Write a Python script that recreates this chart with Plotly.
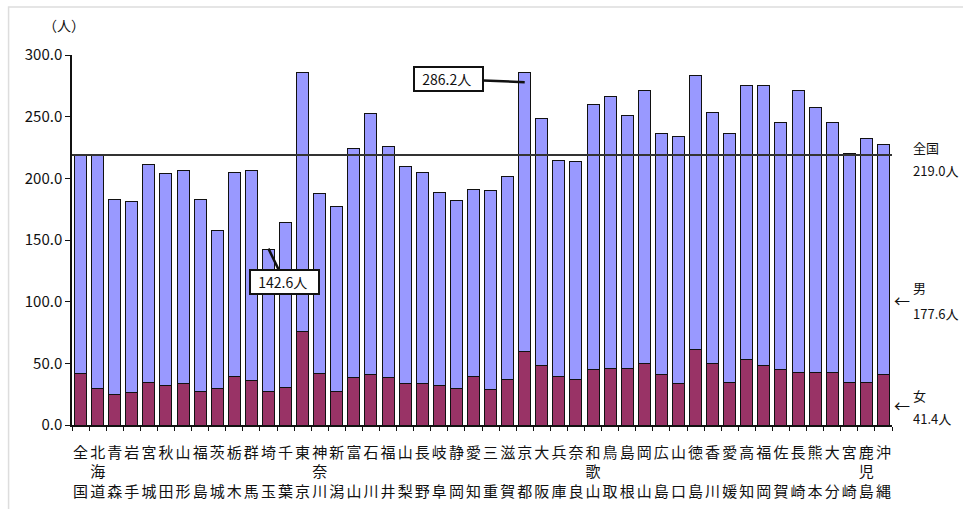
import plotly.graph_objects as go

prefs = ["全国", "北海道", "青森", "岩手", "宮城", "秋田", "山形", "福島", "茨城", "栃木", "群馬", "埼玉",
         "千葉", "東京", "神奈川", "新潟", "富山", "石川", "福井", "山梨", "長野", "岐阜", "静岡", "愛知",
         "三重", "滋賀", "京都", "大阪", "兵庫", "奈良", "和歌山", "鳥取", "島根", "岡山", "広島", "山口",
         "徳島", "香川", "愛媛", "高知", "福岡", "佐賀", "長崎", "熊本", "大分", "宮崎", "鹿児島", "沖縄"]

female = [41.4, 29.7, 24.9, 26.2, 34.6, 32.2, 33.5, 27.0, 29.4, 39.7, 35.7, 27.0,
          30.8, 75.7, 42.0, 27.0, 38.7, 40.8, 38.7, 33.3, 33.3, 32.2, 29.7, 39.7,
          28.4, 37.1, 59.2, 48.1, 39.7, 37.1, 44.6, 46.0, 46.0, 49.5, 41.1, 33.3,
          61.1, 49.7, 34.6, 53.5, 48.4, 44.9, 42.4, 42.4, 42.4, 34.6, 34.6, 41.1]

total = [219.0, 218.6, 182.6, 181.3, 211.3, 203.7, 206.2, 182.6, 157.7, 205.1, 206.2, 142.6,
         164.0, 285.9, 187.8, 177.2, 223.8, 252.2, 225.9, 210.0, 205.1, 188.6, 182.4, 191.0,
         189.9, 201.3, 286.2, 248.6, 214.8, 213.5, 259.7, 266.0, 251.1, 271.1, 236.2, 233.8,
         283.5, 253.5, 236.2, 274.9, 274.9, 244.9, 271.1, 257.3, 244.9, 220.0, 232.7, 227.5]

male = [round(t - f, 1) for t, f in zip(total, female)]

national_total = 219.0
national_male = 177.6
national_female = 41.4
max_label = "286.2人"
min_label = "142.6人"
max_idx = prefs.index("京都")
min_idx = prefs.index("埼玉")

yticks = [0, 50, 100, 150, 200, 250, 300]


def vlabel(name):
    if len(name) == 3:
        return name[0] + "<br>" + name[1] + "<br>" + name[2]
    return name[0] + "<br> <br>" + name[1]


xs = list(range(len(prefs)))
labels = [vlabel(p) for p in prefs]

FONT = "Noto Sans CJK JP"

fig = go.Figure()
fig.add_trace(go.Bar(x=xs, y=female, name="女", marker=dict(color="#993366", line=dict(color="#111111", width=1))))
fig.add_trace(go.Bar(x=xs, y=male, name="男", marker=dict(color="#9999FF", line=dict(color="#111111", width=1))))

L, R, T, B = 71.5, 892.5, 55, 425
W, H = 963, 509


def px(p):
    return (p - L) / (R - L)


def py(p):
    return (B - p) / (B - T)


fig.update_layout(
    barmode="stack",
    bargap=0.3,
    width=W, height=H,
    margin=dict(l=L, r=W - R, t=T, b=H - B, pad=0),
    paper_bgcolor="white",
    plot_bgcolor="rgba(0,0,0,0)",
    showlegend=False,
    font=dict(family=FONT, color="#111111"),
)
fig.update_xaxes(
    range=[-0.5, len(prefs) - 0.5],
    tickvals=xs, ticktext=labels,
    ticks="", showgrid=False, zeroline=False,
    showline=True, linecolor="#111111", linewidth=1.5,
    tickfont=dict(size=15, family=FONT, color="#111111"),
    tickangle=0,
    ticklabelstandoff=13,
    automargin=False,
    minor=dict(ticks="outside", tick0=0.5, dtick=1, ticklen=4, tickcolor="#111111", showgrid=False),
)
fig.update_yaxes(
    range=[0, 300],
    tickvals=yticks, tickformat=".1f",
    ticks="outside", ticklen=5, tickcolor="#111111",
    showgrid=False, zeroline=False,
    showline=True, linecolor="#111111", linewidth=1.5,
    automargin=False,
    tickfont=dict(size=15, family=FONT, color="#111111"),
)

# national average line
fig.add_shape(type="line", xref="x", yref="y", x0=-0.5, x1=48.25, y0=national_total, y1=national_total,
              line=dict(color="#333333", width=2))

# outer frame
fig.add_shape(type="rect", xref="paper", yref="paper", x0=px(8), x1=px(975), y0=py(7), y1=py(520),
              line=dict(color="#dddddd", width=1.5))

annos = []
annos.append(dict(x=max_idx, y=278, xref="x", yref="y", text="  " + max_label + "   ", showarrow=True,
                  arrowhead=0, arrowwidth=2.5, arrowcolor="#111111", ax=-76, ay=-3,
                  bgcolor="white", bordercolor="#111111", borderwidth=2, borderpad=1,
                  font=dict(size=14, family=FONT, color="#111111")))
annos.append(dict(x=min_idx, y=143, xref="x", yref="y", text="  " + min_label + "   ", showarrow=True,
                  arrowhead=0, arrowwidth=2.5, arrowcolor="#111111", ax=16, ay=33,
                  bgcolor="white", bordercolor="#111111", borderwidth=2, borderpad=1,
                  font=dict(size=14, family=FONT, color="#111111")))


def txt(x, y, s, size=13, anchor="left"):
    annos.append(dict(x=px(x), y=py(y), xref="paper", yref="paper", text=s, showarrow=False,
                      xanchor=anchor, yanchor="middle", font=dict(size=size, family=FONT, color="#111111")))


txt(912, 147, "全国")
txt(912, 170, f"{national_total:.1f}人")
txt(912, 287, "男")
txt(892, 300, "←", size=16)
txt(912, 313, f"{national_male:.1f}人")
txt(912, 395, "女")
txt(892, 405, "←", size=16)
txt(912, 418, f"{national_female:.1f}人")
txt(40, 25, "（人）", size=14)

fig.update_layout(annotations=annos)
fig.write_html("out.html", config={"displayModeBar": False},
               post_script="document.body.style.margin='0';document.body.style.overflow='hidden';")
